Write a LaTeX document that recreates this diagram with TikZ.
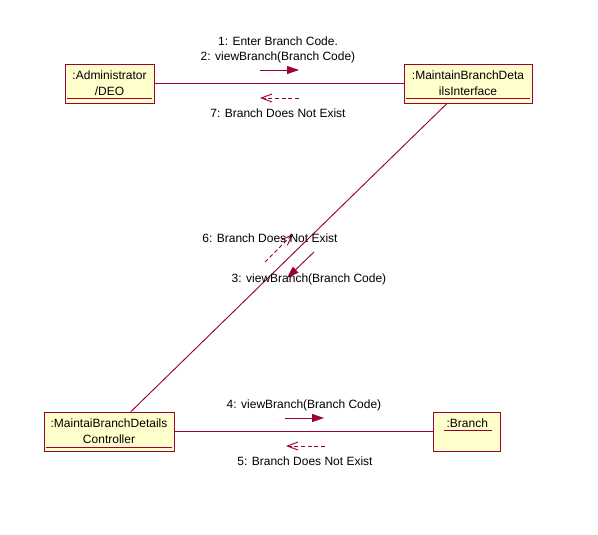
\documentclass[tikz,border=0pt]{standalone}
\usepackage{fontspec}
\setmainfont{Liberation Sans}
\usetikzlibrary{arrows.meta}
\definecolor{umlred}{RGB}{153,0,51}
\definecolor{umlfill}{RGB}{255,255,204}

\begin{document}
\begin{tikzpicture}[x=0.75pt,y=-0.75pt,font=\fontsize{9}{12}\selectfont,line width=0.7pt,
  obj/.style={draw=umlred,fill=umlfill,align=center,inner sep=0pt,minimum height=29.25pt},
  link/.style={umlred},
  msg/.style={umlred,-{Triangle[length=9pt,width=6pt]}},
  ret/.style={umlred,dash pattern=on 3pt off 2pt,-{Straight Barb[length=8pt,width=6pt]}}]
\useasboundingbox (0,0) rectangle (598,534);

\node[obj,minimum width=66.75pt] (adm) at (109.5,83.5) {:Administrator\\/DEO};
\node[obj,minimum width=96pt] (intf) at (468,83.5) {:MaintainBranchDeta\\ilsInterface};
\node[obj,minimum width=97.5pt] (ctrl) at (109,431.5) {:MaintaiBranchDetails\\Controller};
\node[obj,minimum width=50.25pt] (br) at (467.3,431.5) {:Branch\\\mbox{}};

\draw[link] ([shift={(2.5,-4.5)}]adm.south west) -- ([shift={(-2.5,-4.5)}]adm.south east);
\draw[link] ([shift={(2.5,-4.5)}]intf.south west) -- ([shift={(-2.5,-4.5)}]intf.south east);
\draw[link] ([shift={(2.5,-4.5)}]ctrl.south west) -- ([shift={(-2.5,-4.5)}]ctrl.south east);
\draw[link] ([shift={(-23.5,-1)}]br.center) -- ([shift={(24.5,-1)}]br.center);

\draw[link] (adm) -- (intf);
\draw[link] ([shift={(-21,0)}]intf.south) -- ([shift={(22,0)}]ctrl.north);
\draw[link] (ctrl) -- (br);

\coordinate (m1s) at (260,70);
\coordinate (m1e) at (299,70);
\coordinate (r7s) at (299,98);
\coordinate (r7e) at (260,98);
\coordinate (m3s) at (314,252);
\coordinate (m3e) at (287,278);
\coordinate (r6s) at (265,262);
\coordinate (r6e) at (293,234);
\coordinate (m4s) at (285,418);
\coordinate (m4e) at (324,418);
\coordinate (r5s) at (325,446);
\coordinate (r5e) at (286,446);

\draw[msg] (m1s) -- (m1e);
\draw[ret] (r7s) -- (r7e);
\draw[msg] (m3s) -- (m3e);
\draw[ret] (r6s) -- (r6e);
\draw[msg] (m4s) -- (m4e);
\draw[ret] (r5s) -- (r5e);

\node (l1) at (278,41) {1: Enter Branch Code.};
\node (l2) at (278,57) {2: viewBranch(Branch Code)};
\node (l7) at (278,113) {7: Branch Does Not Exist};
\node (l6) at (270,238) {6: Branch Does Not Exist};
\node (l3) at (309,279) {3: viewBranch(Branch Code)};
\node (l4) at (304,405) {4: viewBranch(Branch Code)};
\node (l5) at (305,461) {5: Branch Does Not Exist};
\end{tikzpicture}
\end{document}
